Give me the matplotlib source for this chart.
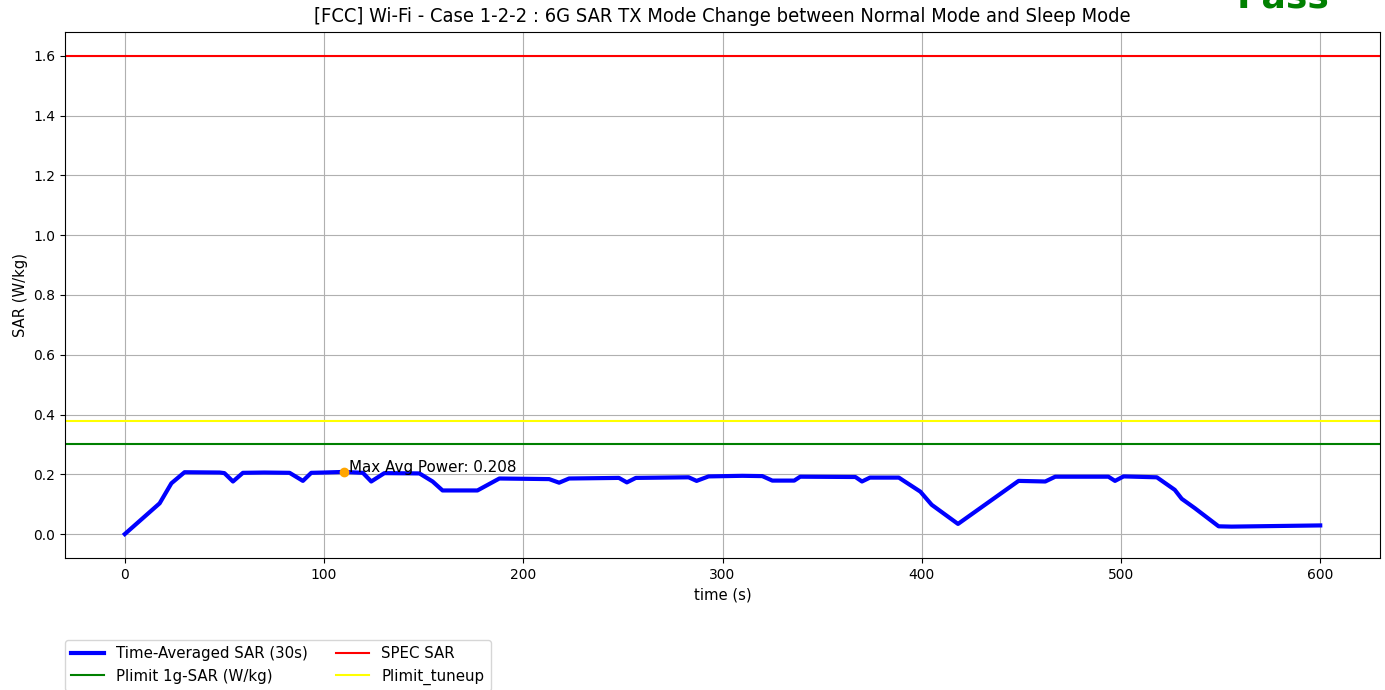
import matplotlib
matplotlib.use("Agg")
import matplotlib.pyplot as plt

# Time-averaged SAR polyline (time in s, SAR in W/kg)
time_s = [0, 17.5, 23.4, 30, 47.6, 50, 54.3, 59.3, 70, 82.7, 89.4, 93.6, 100, 110,
          119.5, 123.7, 130.3, 147.9, 154.5, 159.5, 177, 188, 213, 218, 223, 248,
          252, 256.5, 283, 287, 293, 310, 320, 325, 336, 339, 366.7, 370, 374,
          388.5, 399.3, 405, 418.2, 448.6, 462, 467, 493.7, 497, 501.3, 518, 527,
          530.5, 537, 549, 555.5, 600]
sar = [0.0, 0.103, 0.17, 0.207, 0.206, 0.204, 0.176, 0.205, 0.206, 0.205, 0.178,
       0.205, 0.206, 0.208, 0.205, 0.176, 0.204, 0.203, 0.176, 0.146, 0.146, 0.186,
       0.184, 0.172, 0.186, 0.188, 0.173, 0.188, 0.190, 0.178, 0.193, 0.195, 0.194,
       0.179, 0.179, 0.192, 0.191, 0.176, 0.189, 0.189, 0.142, 0.098, 0.034, 0.178,
       0.176, 0.192, 0.192, 0.178, 0.193, 0.190, 0.148, 0.118, 0.087, 0.026, 0.025,
       0.029]

spec_sar = 1.6
plimit_1g = 0.3
plimit_tuneup = 0.377
max_t = 110
max_v = 0.208

fig = plt.figure(figsize=(13.85, 6.9), dpi=100)
ax = fig.add_axes([65/1385, 1-558/690, (1380-65)/1385, (558-32)/690])

ax.plot(time_s, sar, color='blue', linewidth=3, label='Time-Averaged SAR (30s)')
ax.axhline(plimit_1g, color='green', linewidth=1.5, label='Plimit 1g-SAR (W/kg)')
ax.axhline(spec_sar, color='red', linewidth=1.5, label='SPEC SAR')
ax.axhline(plimit_tuneup, color='yellow', linewidth=1.5, label='Plimit_tuneup')
ax.plot([max_t], [max_v], 'o', color='orange', markersize=6)
ax.text(max_t + 2.5, max_v, 'Max Avg Power: %.3f' % max_v, fontsize=10.9)

ax.set_xlim(-30, 630)
ax.set_ylim(-0.08, 1.68)
ax.set_xticks([0, 100, 200, 300, 400, 500, 600])
ax.set_yticks([0.0, 0.2, 0.4, 0.6, 0.8, 1.0, 1.2, 1.4, 1.6])
ax.grid(True, color='#b0b0b0', linewidth=0.8)
ax.set_xlabel('time (s)', fontsize=10.7)
ax.set_ylabel('SAR (W/kg)', fontsize=10.6)
ax.set_title('[FCC] Wi-Fi - Case 1-2-2 : 6G SAR TX Mode Change between Normal Mode and Sleep Mode',
             fontsize=14.4, fontstretch='condensed', family='DejaVu Sans', pad=7)

ax.legend(loc='upper left', bbox_to_anchor=(0, -82/526), borderaxespad=0, ncol=2,
          fontsize=10.8, handlelength=2.2, columnspacing=1.9)

fig.text(1237/1385, 1-8/690, 'Pass', color='green', fontsize=26, fontweight='bold',
         ha='left', va='baseline')

fig.savefig('out.png', dpi=100)
